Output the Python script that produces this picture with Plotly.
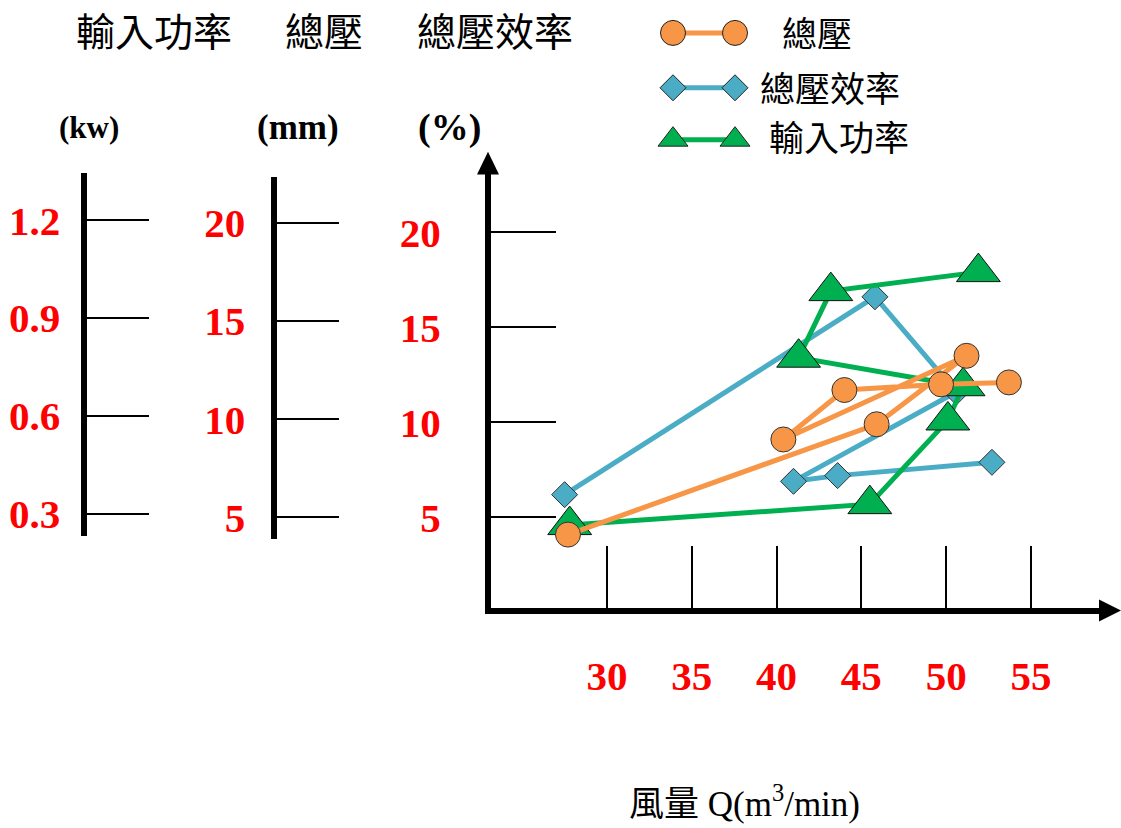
import plotly.graph_objects as go

# ---------------- data ----------------
# 總壓 (total pressure) series
q_pressure = [27.7, 45.9, 51.2, 40.4, 44.0, 49.7, 53.7]
v_pressure = [4.1, 9.9, 13.5, 9.1, 11.7, 12.0, 12.1]
# 總壓效率 (total pressure efficiency) series
q_eff = [27.5, 45.8, 50.6, 41.0, 43.6, 52.7]
v_eff = [6.2, 16.6, 11.6, 6.9, 7.2, 7.9]
# 輸入功率 (input power) series
q_power = [27.8, 45.5, 50.1, 51.0, 41.3, 43.2, 51.9]
v_power = [4.6, 5.7, 10.1, 11.9, 13.4, 16.9, 17.9]

x_ticks = [30, 35, 40, 45, 50, 55]
pct_ticks = [5, 10, 15, 20]
kw_ticks = [0.3, 0.6, 0.9, 1.2]
kw_labels = ["0.3", "0.6", "0.9", "1.2"]
mm_ticks = [5, 10, 15, 20]

series_names = ["總壓", "總壓效率", "輸入功率"]
header_texts = ["輸入功率", "總壓", "總壓效率"]
unit_texts = ["(kw)", "(mm)", "(%)"]
x_title = "風量 Q(m<sup>3</sup>/min)"

# ---------------- styling ----------------
W, H = 1121, 828
ORANGE = "#F79646"
BLUE = "#4BACC6"
GREEN = "#00B050"
RED = "#FF0000"
OUTLINE = "#333333"
SERIF = "Liberation Serif, Times New Roman, serif"
CJK = "Noto Sans CJK TC, Noto Sans CJK SC, sans-serif"
MIX = "Liberation Serif, Noto Sans CJK TC, serif"


def px(x):
    return x / W


def py(y):
    return 1 - y / H


fig = go.Figure()

# data traces (blue under green under orange)
fig.add_trace(go.Scatter(
    x=q_eff, y=v_eff, mode="lines+markers", name=series_names[1],
    line=dict(color=BLUE, width=5),
    marker=dict(symbol="diamond", size=20, color=BLUE,
                line=dict(color=OUTLINE, width=1)),
    showlegend=False))
fig.add_trace(go.Scatter(
    x=q_power, y=v_power, mode="lines+markers", name=series_names[2],
    line=dict(color=GREEN, width=5),
    marker=dict(symbol="triangle-up", size=38, color=GREEN,
                line=dict(color="#111111", width=1)),
    showlegend=False))
fig.add_trace(go.Scatter(
    x=q_pressure, y=v_pressure, mode="lines+markers", name=series_names[0],
    line=dict(color=ORANGE, width=5),
    marker=dict(symbol="circle", size=25, color=ORANGE,
                line=dict(color=OUTLINE, width=1)),
    showlegend=False))

# dummy traces so that the extra scale axes get drawn
fig.add_trace(go.Scatter(x=[None], y=[None], yaxis="y2", showlegend=False, hoverinfo="skip"))
fig.add_trace(go.Scatter(x=[None], y=[None], yaxis="y3", showlegend=False, hoverinfo="skip"))

# legend samples drawn on a pixel-space helper axis pair
legend_rows = [
    (ORANGE, "circle", 25, 33, series_names[0], 817),
    (BLUE, "diamond", 20, 88, series_names[1], 830),
    (GREEN, "triangle-up", 26, 140, series_names[2], 839),
]
for color, sym, size, ypix, label, tx in legend_rows:
    fig.add_trace(go.Scatter(
        x=[673, 735], y=[ypix, ypix], xaxis="x4", yaxis="y4",
        mode="lines+markers", line=dict(color=color, width=5),
        marker=dict(symbol=sym, size=size, color=color,
                    line=dict(color="#222222", width=1)),
        showlegend=False, hoverinfo="skip"))

annotations = []
for color, sym, size, ypix, label, tx in legend_rows:
    annotations.append(dict(x=px(tx), y=py(ypix - 1 if sym != "triangle-up" else ypix - 4),
                            xref="paper", yref="paper", text=label,
                            showarrow=False, xanchor="center", yanchor="middle",
                            font=dict(family=CJK, size=35, color="black")))

# headers
for txt, cx in zip(header_texts, [154, 324, 495]):
    annotations.append(dict(x=px(cx), y=py(29), xref="paper", yref="paper", text=txt,
                            showarrow=False, xanchor="center", yanchor="middle",
                            font=dict(family=CJK, size=39, color="black")))
# units
for txt, cx, sz in zip(unit_texts, [89, 298, 449], [31, 35, 38]):
    annotations.append(dict(x=px(cx), y=py(128), xref="paper", yref="paper", text=txt,
                            showarrow=False, xanchor="center", yanchor="middle",
                            font=dict(family=SERIF, size=sz, color="black", weight="bold")))
# x title
annotations.append(dict(x=px(745), y=py(803), xref="paper", yref="paper", text=x_title,
                        showarrow=False, xanchor="center", yanchor="middle",
                        font=dict(family=MIX, size=35, color="black")))

# arrow heads for the main axes
shapes = [
    dict(type="path", xref="paper", yref="paper",
         path=f"M {px(488)} {py(152)} L {px(477)} {py(175)} L {px(499)} {py(175)} Z",
         fillcolor="black", line=dict(width=0)),
    dict(type="path", xref="paper", yref="paper",
         path=f"M {px(1121)} {py(612)} L {px(1099)} {py(601)} L {px(1099)} {py(623)} Z",
         fillcolor="black", line=dict(width=0)),
]

tick_font = dict(family=SERIF, size=41, color=RED, weight="bold")

fig.update_layout(
    width=W, height=H,
    margin=dict(l=0, r=0, t=0, b=0),
    paper_bgcolor="white", plot_bgcolor="rgba(0,0,0,0)",
    showlegend=False,
    annotations=annotations,
    shapes=shapes,
    xaxis=dict(domain=[px(491), px(1102)], range=[23.16, 59.19],
               showline=True, linewidth=6, linecolor="black",
               ticks="inside", ticklen=62, tickwidth=1.5, tickcolor="black",
               tickvals=x_ticks, ticktext=[str(v) for v in x_ticks],
               tickfont=tick_font, ticklabelstandoff=27,
               showgrid=False, zeroline=False, fixedrange=True),
    yaxis=dict(domain=[py(609), py(174)], range=[0.265, 23.08],
               showline=True, linewidth=6, linecolor="black",
               ticks="inside", ticklen=65, tickwidth=1.5, tickcolor="black",
               tickvals=pct_ticks, ticktext=[str(v) for v in pct_ticks],
               tickfont=tick_font, ticklabelstandoff=36,
               showgrid=False, zeroline=False, fixedrange=True),
    yaxis2=dict(domain=[py(537), py(173)], range=[0.2327, 1.3459],
                anchor="free", position=px(83.5),
                showline=True, linewidth=6, linecolor="black",
                ticks="inside", ticklen=62, tickwidth=1.5, tickcolor="black",
                tickvals=kw_ticks, ticktext=kw_labels,
                tickfont=tick_font, ticklabelstandoff=12,
                showgrid=False, zeroline=False, fixedrange=True),
    yaxis3=dict(domain=[py(540), py(177)], range=[3.907, 22.364],
                anchor="free", position=px(273.5),
                showline=True, linewidth=6, linecolor="black",
                ticks="inside", ticklen=62, tickwidth=1.5, tickcolor="black",
                tickvals=mm_ticks, ticktext=[str(v) for v in mm_ticks],
                tickfont=tick_font, ticklabelstandoff=17,
                showgrid=False, zeroline=False, fixedrange=True),
    xaxis4=dict(domain=[0, 1], range=[0, W], anchor="y4", visible=False,
                fixedrange=True),
    yaxis4=dict(domain=[0, 1], range=[H, 0], anchor="x4", visible=False,
                fixedrange=True),
)

fig.write_html(
    "out.html",
    config={"displayModeBar": False},
    post_script="document.body.style.margin='0px';document.body.style.padding='0px';document.body.style.overflow='hidden';",
)
